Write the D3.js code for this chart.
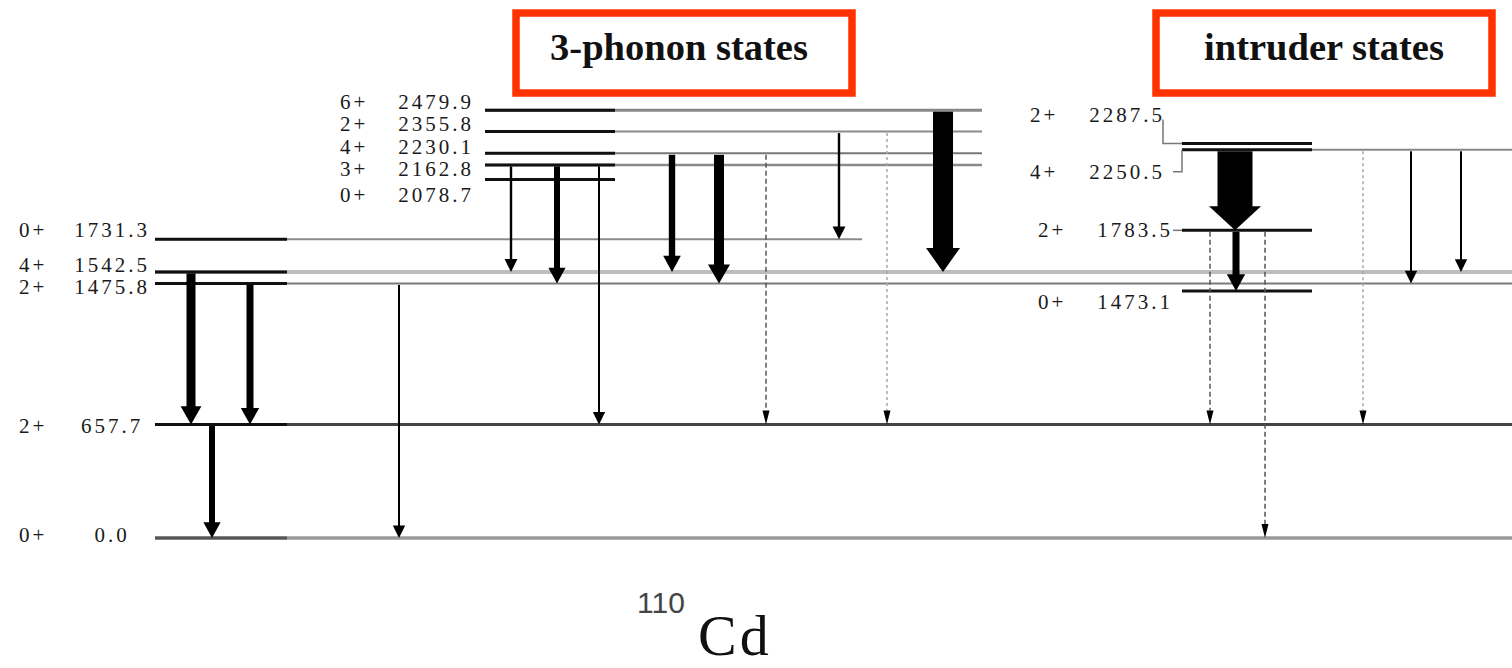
<!DOCTYPE html>
<html>
<head>
<meta charset="utf-8">
<script src="https://cdn.jsdelivr.net/npm/d3@7"></script>
<style>
  html, body { margin: 0; background: #fff; }
  svg { display: block; }
</style>
</head>
<body>
<svg id="scheme" width="1512" height="668"></svg>
<script>
// ---- Level data for 110Cd (energies in keV) ----
const levelEnergy = ["0.0", "657.7", "1475.8", "1542.5", "1731.3",
                     "2078.7", "2162.8", "2230.1", "2355.8", "2479.9",
                     "1473.1", "1783.5", "2250.5", "2287.5"];
const levelSpin   = ["0+", "2+", "2+", "4+", "0+",
                     "0+", "3+", "4+", "2+", "6+",
                     "0+", "2+", "4+", "2+"];
const levelBand   = ["low", "low", "low", "low", "low",
                     "three", "three", "three", "three", "three",
                     "intruder", "intruder", "intruder", "intruder"];

// ---- Gamma transitions: initial level, final level, relative intensity, line type ----
const transFrom      = ["1542.5", "1475.8", "657.7", "1475.8",
                        "2162.8", "2162.8", "2162.8",
                        "2230.1", "2230.1", "2230.1",
                        "2355.8", "2355.8", "2479.9",
                        "2250.5", "1783.5", "1783.5", "1783.5",
                        "2250.5", "2250.5", "2250.5"];
const transTo        = ["657.7", "657.7", "0.0", "0.0",
                        "1542.5", "1475.8", "657.7",
                        "1542.5", "1475.8", "657.7",
                        "1731.3", "657.7", "1542.5",
                        "1783.5", "1473.1", "657.7", "0.0",
                        "657.7", "1475.8", "1542.5"];
const transIntensity = [4.5, 3.5, 3, 1,
                        1.2, 3, 1,
                        3.2, 5, 0.75,
                        1.2, 0.75, 10,
                        17.5, 3.5, 0.75, 0.75,
                        0.75, 1, 1];
const transType      = ["solid", "solid", "solid", "solid",
                        "solid", "solid", "solid",
                        "solid", "solid", "dashed",
                        "solid", "faint", "solid",
                        "solid", "solid", "dashed", "dashed",
                        "faint", "solid", "solid"];

// ---- Headings ----
const boxTitles = ["3-phonon states", "intruder states"];
const nucleusMass = "110";
const nucleusSymbol = "Cd";

// ---- Layout ----
const W = 1512, H = 668;
const svg = d3.select("#scheme");
svg.append("rect").attr("width", W).attr("height", H).attr("fill", "#fff");

const y = d3.scaleLinear().domain([0, 2500]).range([538, 106.75]);
const strokeW = d3.scaleLinear().domain([0, 1]).range([0, 2]);

const bandX = {
  low:      { x0: 155,  x1: 287,  spinX: 19,   energyX: 112 },
  three:    { x0: 485,  x1: 615,  spinX: 340,  energyX: 436 },
  intruder: { x0: 1182, x1: 1312, spinX: 1034, energyX: 1131 }
};
// Right end of the thin continuation line for each level, and its look
const extension = {
  "0.0":    { x: 1512, color: "#9a9a9a", w: 3.5 },
  "657.7":  { x: 1512, color: "#444",    w: 3 },
  "1475.8": { x: 1512, color: "#7a7a7a", w: 2 },
  "1542.5": { x: 1512, color: "#bdbdbd", w: 4 },
  "1731.3": { x: 862,  color: "#8a8a8a", w: 2 },
  "2162.8": { x: 982,  color: "#8a8a8a", w: 2.5 },
  "2230.1": { x: 982,  color: "#777",    w: 2 },
  "2355.8": { x: 982,  color: "#8a8a8a", w: 2 },
  "2479.9": { x: 982,  color: "#888",    w: 3 },
  "2250.5": { x: 1512, color: "#888",    w: 2 }
};
const levelColor = { "0.0": "#555" };
const levelNudge = { "1473.1": 7 };       // keeps 1473.1 clear of 1475.8
// Label offsets from the level line (vertical centre, horizontal shift)
const labelShift = {
  "0.0": [-3, 0], "657.7": [1, 0], "1475.8": [4, 0], "1542.5": [-7, 0], "1731.3": [-9, 0],
  "2078.7": [16, 0], "2162.8": [4, 0], "2230.1": [-6, 0], "2355.8": [-8, 0], "2479.9": [-8, 0],
  "2287.5": [-28, -4], "2250.5": [22, -4], "1783.5": [0, 4], "1473.1": [18, 4]
};
// Horizontal position of each transition arrow
const arrowX = [191, 250, 212, 399,
                511, 557, 599,
                672, 719, 766,
                839, 887, 943,
                1235, 1236, 1210, 1265,
                1363, 1411, 1461];

const levels = levelEnergy.map((e, i) => ({
  e, spin: levelSpin[i], band: levelBand[i],
  yy: y(+e) + (levelNudge[e] || 0)
}));
const levelY = Object.fromEntries(levels.map(d => [d.e, d.yy]));

// ---- Level lines ----
const gLevels = svg.append("g");
levels.forEach(d => {
  const b = bandX[d.band];
  const ext = extension[d.e];
  if (ext) {
    gLevels.append("line")
      .attr("x1", b.x0).attr("x2", ext.x)
      .attr("y1", d.yy).attr("y2", d.yy)
      .attr("stroke", ext.color).attr("stroke-width", ext.w);
  }
  gLevels.append("line")
    .attr("x1", b.x0).attr("x2", b.x1)
    .attr("y1", d.yy).attr("y2", d.yy)
    .attr("stroke", levelColor[d.e] || "#111").attr("stroke-width", 3);
});

// ---- Level labels ----
const gLabels = svg.append("g")
  .attr("font-family", "'Liberation Serif', 'DejaVu Serif', serif")
  .attr("font-size", 21).attr("letter-spacing", 3).attr("fill", "#1a1a1a");
levels.forEach(d => {
  const b = bandX[d.band];
  const [dy, dx] = labelShift[d.e] || [0, 0];
  const cy = y(+d.e) + dy;
  gLabels.append("text").attr("x", b.spinX + dx).attr("y", cy)
    .attr("dominant-baseline", "central").text(d.spin);
  gLabels.append("text").attr("x", b.energyX + dx).attr("y", cy)
    .attr("dominant-baseline", "central").attr("text-anchor", "middle").text(d.e);
});

// Connectors from displaced labels to their levels
const conn = svg.append("g").attr("fill", "none").attr("stroke", "#777").attr("stroke-width", 1.5);
const ci = bandX.intruder;
const yA = levelY["2287.5"], yB = levelY["2250.5"], yC = levelY["1783.5"];
conn.append("path").attr("d", d3.line()([[ci.x0 - 19, y(2287.5) - 24], [ci.x0 - 19, yA], [ci.x0, yA]]));
conn.append("path").attr("d", d3.line()([[ci.x0 - 9, y(2250.5) + 22], [ci.x0, y(2250.5) + 22], [ci.x0, yB]]));
conn.append("path").attr("d", d3.line()([[ci.x0 - 9, yC], [ci.x0, yC]]));

// ---- Transition arrows ----
const gArrows = svg.append("g");
transFrom.forEach((f, i) => {
  const x = arrowX[i];
  const y0 = levelY[f] + 1.5;
  const y1 = levelY[transTo[i]];
  const type = transType[i];
  if (type === "solid") {
    const w = strokeW(transIntensity[i]);
    const hw = w * 1.2 + 10;
    const hh = Math.min(24, 11 + w * 0.8);
    gArrows.append("rect")
      .attr("x", x - w / 2).attr("y", y0)
      .attr("width", w).attr("height", y1 - hh - y0 + 1)
      .attr("fill", "#000");
    gArrows.append("path")
      .attr("d", d3.line()([[x - hw / 2, y1 - hh], [x + hw / 2, y1 - hh], [x, y1]]) + "Z")
      .attr("fill", "#000");
  } else {
    const hh = 14, hw = 7;
    gArrows.append("line")
      .attr("x1", x).attr("x2", x).attr("y1", y0).attr("y2", y1 - hh)
      .attr("stroke", type === "dashed" ? "#555" : "#a8a8a8")
      .attr("stroke-width", strokeW(transIntensity[i]))
      .attr("stroke-dasharray", type === "dashed" ? "5,3" : "3,3");
    gArrows.append("path")
      .attr("d", d3.line()([[x - hw / 2, y1 - hh], [x + hw / 2, y1 - hh], [x, y1]]) + "Z")
      .attr("fill", "#000");
  }
});

// ---- Boxed headings ----
const boxes = [{ x0: 516, x1: 852 }, { x0: 1156, x1: 1492 }];
boxTitles.forEach((t, i) => {
  const b = boxes[i];
  svg.append("rect")
    .attr("x", b.x0).attr("y", 13).attr("width", b.x1 - b.x0).attr("height", 80)
    .attr("fill", "none").attr("stroke", "#ff3300").attr("stroke-width", 7.5);
  svg.append("text")
    .attr("x", (b.x0 + b.x1) / 2 - (i === 0 ? 5 : 0)).attr("y", 60)
    .attr("text-anchor", "middle")
    .attr("font-family", "'Liberation Serif', 'DejaVu Serif', serif")
    .attr("font-weight", "bold").attr("font-size", 38.5).attr("fill", "#111")
    .text(t);
});

// ---- Nucleus name ----
svg.append("text").attr("x", 637).attr("y", 613)
  .attr("font-family", "'Liberation Sans', Arial, sans-serif")
  .attr("font-size", 30).attr("fill", "#444").text(nucleusMass);
svg.append("text").attr("x", 698).attr("y", 655)
  .attr("font-family", "'Liberation Serif', 'DejaVu Serif', serif")
  .attr("font-size", 58).attr("letter-spacing", 3).attr("fill", "#111").text(nucleusSymbol);
</script>
</body>
</html>
